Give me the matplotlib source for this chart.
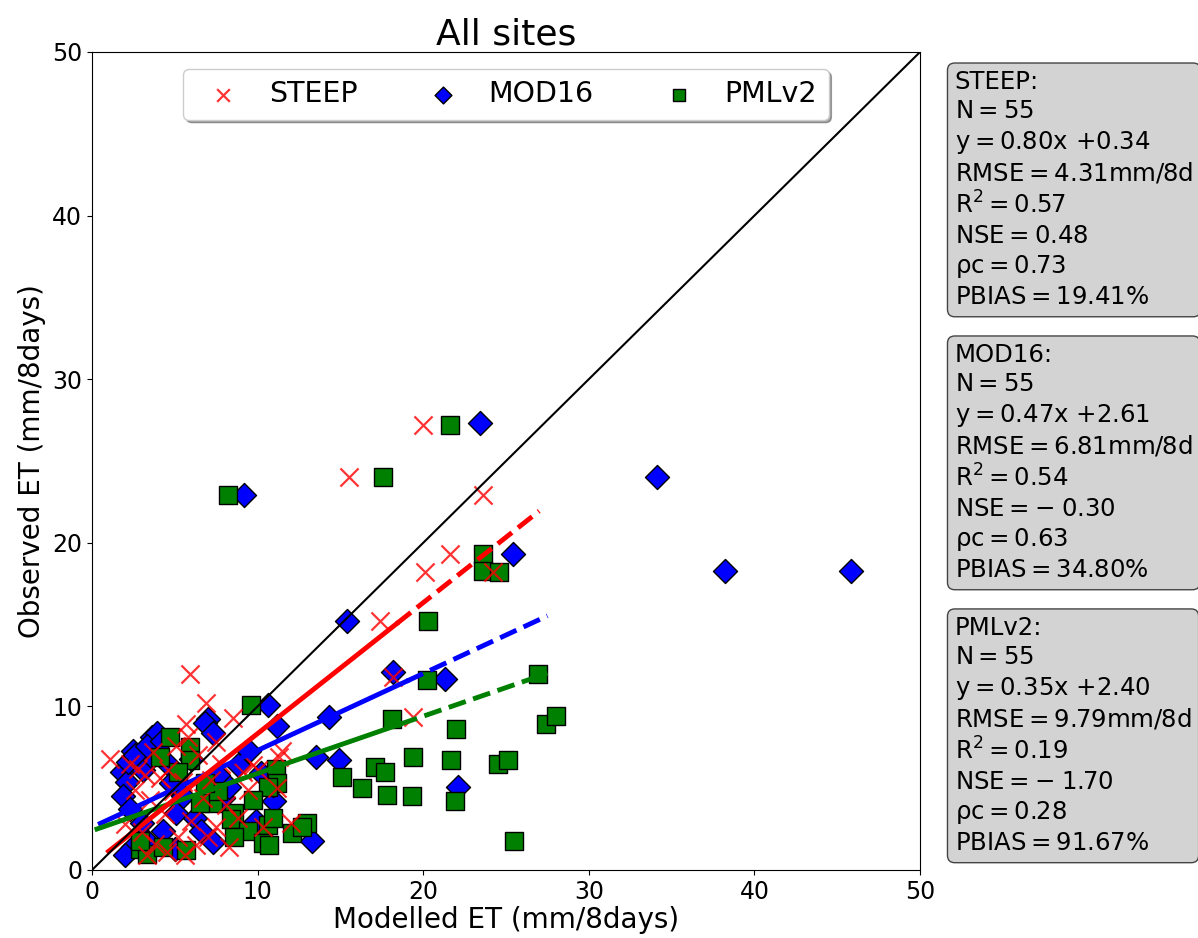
import numpy as np
import matplotlib.pyplot as plt

# modelled (x) vs observed (y) ET, mm/8days
steep_x = [20.0, 15.5, 23.6, 20.1, 21.6, 24.2, 17.4, 5.9, 19.4, 18.2,
           6.9, 5.7, 5.8, 1.1, 8.5, 11.5, 9.7, 9.1, 7.5, 8.8,
           10.3, 11.2, 12.0, 11.3, 2.3, 2.8, 3.2, 2.6, 3.5, 4.1,
           4.6, 4.4, 3.0, 3.8, 4.5, 5.2, 5.6, 6.3, 6.0, 6.7,
           7.2, 7.8, 6.4, 5.1, 3.7, 4.9, 8.1, 9.4, 10.0, 2.0,
           3.3, 7.0, 8.3, 5.5, 7.5]
steep_y = [27.2, 24.0, 22.9, 18.2, 19.3, 18.2, 15.2, 12.0, 9.35, 11.8,
           10.2, 8.9, 8.1, 6.8, 9.3, 7.3, 6.4, 6.0, 2.6, 3.2,
           2.6, 5.0, 2.9, 6.9, 6.5, 6.2, 5.8, 4.9, 4.3, 5.6,
           6.1, 3.4, 2.3, 1.6, 1.1, 2.0, 0.9, 1.5, 3.0, 4.4,
           5.5, 6.5, 7.0, 7.6, 7.2, 4.8, 4.0, 4.9, 6.1, 2.8,
           0.9, 2.0, 1.4, 5.4, 7.8]

mod16_x = [23.4, 9.2, 34.1, 38.2, 45.8, 25.4, 15.4, 18.2, 21.3, 10.6,
           11.2, 14.3, 14.9, 13.5, 22.1, 13.3, 11.0, 7.9, 7.0, 6.8,
           7.3, 1.8, 2.1, 1.9, 3.1, 3.6, 2.5, 2.0, 4.3, 5.1,
           5.0, 2.5, 3.6, 3.9, 2.2, 2.6, 3.3, 4.2, 4.6, 5.5,
           6.2, 6.6, 7.3, 8.3, 8.8, 9.5, 10.2, 10.9, 3.0, 3.4,
           4.8, 6.0, 7.6, 9.9, 2.3]
mod16_y = [27.3, 22.9, 24.0, 18.3, 18.3, 19.3, 15.2, 12.1, 11.7, 10.1,
           8.8, 9.35, 6.7, 6.9, 5.1, 1.8, 4.2, 4.4, 9.2, 9.0,
           8.4, 6.0, 5.4, 4.5, 6.1, 6.9, 1.4, 0.9, 2.4, 3.5,
           1.3, 7.3, 8.1, 8.4, 6.6, 7.0, 7.6, 7.9, 6.5, 4.5,
           3.2, 2.4, 1.7, 5.1, 6.4, 7.3, 5.9, 5.2, 2.9, 1.7,
           5.3, 6.8, 5.8, 3.0, 3.7]

pml_x = [21.6, 17.6, 8.2, 23.6, 23.6, 24.6, 20.3, 26.9, 20.2, 18.1,
         22.0, 19.4, 21.7, 24.5, 25.1, 15.1, 17.1, 17.7, 16.3, 17.8,
         19.3, 21.9, 27.4, 28.0, 25.5, 9.6, 11.1, 11.2, 10.6, 9.7,
         8.6, 8.4, 9.4, 10.6, 10.9, 8.6, 10.3, 10.7, 12.1, 13.0,
         7.3, 4.7, 5.9, 4.1, 5.9, 5.2, 2.9, 3.3, 4.3, 5.7,
         2.9, 6.5, 7.6, 12.7, 6.8]
pml_y = [27.2, 24.0, 22.9, 19.3, 18.3, 18.2, 15.2, 12.0, 11.6, 9.2,
         8.6, 6.9, 6.7, 6.5, 6.7, 5.7, 6.3, 6.0, 5.0, 4.6,
         4.5, 4.2, 8.9, 9.4, 1.8, 10.1, 6.2, 5.3, 5.1, 4.3,
         3.5, 3.1, 2.4, 2.75, 3.2, 2.0, 1.65, 1.5, 2.25, 2.9,
         4.1, 8.1, 7.5, 6.9, 6.7, 6.0, 1.3, 1.0, 1.4, 1.2,
         1.8, 4.1, 4.8, 2.6, 5.3]

# fitted lines (from the stats boxes)
slope = [0.80, 0.47, 0.35]
intercept = [0.34, 2.61, 2.40]
fit_start = [1.0, 0.5, 0.3]
fit_split = [18.4, 19.0, 18.6]
fit_end = [27.0, 27.5, 27.5]

stats = {
    'STEEP': ['55', '0.80', '0.34', '4.31', '0.57', '0.48', '0.73', '19.41'],
    'MOD16': ['55', '0.47', '2.61', '6.81', '0.54', '-0.30', '0.63', '34.80'],
    'PMLv2': ['55', '0.35', '2.40', '9.79', '0.19', '-1.70', '0.28', '91.67'],
}

fig = plt.figure(figsize=(11.98, 9.38), dpi=100)
ax = fig.add_axes([0.0768, 0.0725, 0.6912, 0.8721])

h2 = ax.scatter(mod16_x, mod16_y, marker='D', s=150, c='blue', edgecolors='black', linewidths=1, label='MOD16', zorder=2)
h3 = ax.scatter(pml_x, pml_y, marker='s', s=150, c='green', edgecolors='black', linewidths=1, label='PMLv2', zorder=2)
h1 = ax.scatter(steep_x, steep_y, marker='x', s=170, c='red', alpha=0.8, linewidths=1.6, label='STEEP', zorder=3)

cols = ['red', 'blue', 'green']
for i in [1, 2, 0]:
    xa = np.array([fit_start[i], fit_split[i]])
    xb = np.array([fit_split[i], fit_end[i]])
    ax.plot(xa, slope[i] * xa + intercept[i], '-', color=cols[i], lw=3.5, zorder=4)
    ax.plot(xb, slope[i] * xb + intercept[i], '--', color=cols[i], lw=3.5, zorder=4)

ax.plot([0, 50], [0, 50], color='black', lw=1.5, zorder=5)

ax.set_xlim(0, 50)
ax.set_ylim(0, 50)
ax.set_xticks(range(0, 51, 10))
ax.set_yticks(range(0, 51, 10))
ax.tick_params(labelsize=17)
ax.set_xlabel('Modelled ET (mm/8days)', fontsize=20, labelpad=2)
ax.set_ylabel('Observed ET (mm/8days)', fontsize=20)
ax.set_title('All sites', fontsize=26, pad=4)

ax.legend(handles=[h1, h2, h3], loc='upper center', ncol=3, fontsize=20.5,
          markerscale=0.7, columnspacing=2.0, handletextpad=0.6,
          borderpad=0.4, shadow=True, framealpha=1, borderaxespad=0.6)

tops = [0.925, 0.634, 0.343]
for name, top in zip(stats, tops):
    n, a, b, rmse, r2, nse, pc, pb = stats[name]
    nse_txt = nse.replace('-', r'-\;')
    txt = '\n'.join([
        name + ':',
        r'$\mathrm{N = %s}$' % n,
        r'$\mathrm{y = %sx}$ +%s' % (a, b),
        r'$\mathrm{RMSE = %s}$mm/8d' % rmse,
        r'$\mathrm{R^2 = %s}$' % r2,
        r'$\mathrm{NSE = %s}$' % nse_txt,
        r'$\mathrm{\rho c = %s}$' % pc,
        r'$\mathrm{PBIAS = %s\%%}$' % pb,
    ])
    fig.text(0.797, top, txt, fontsize=17.6, va='top', ha='left', linespacing=1.265,
             bbox=dict(boxstyle='round,pad=0.3', facecolor='lightgray', edgecolor='#444444'))

fig.savefig('out.png', dpi=100)
